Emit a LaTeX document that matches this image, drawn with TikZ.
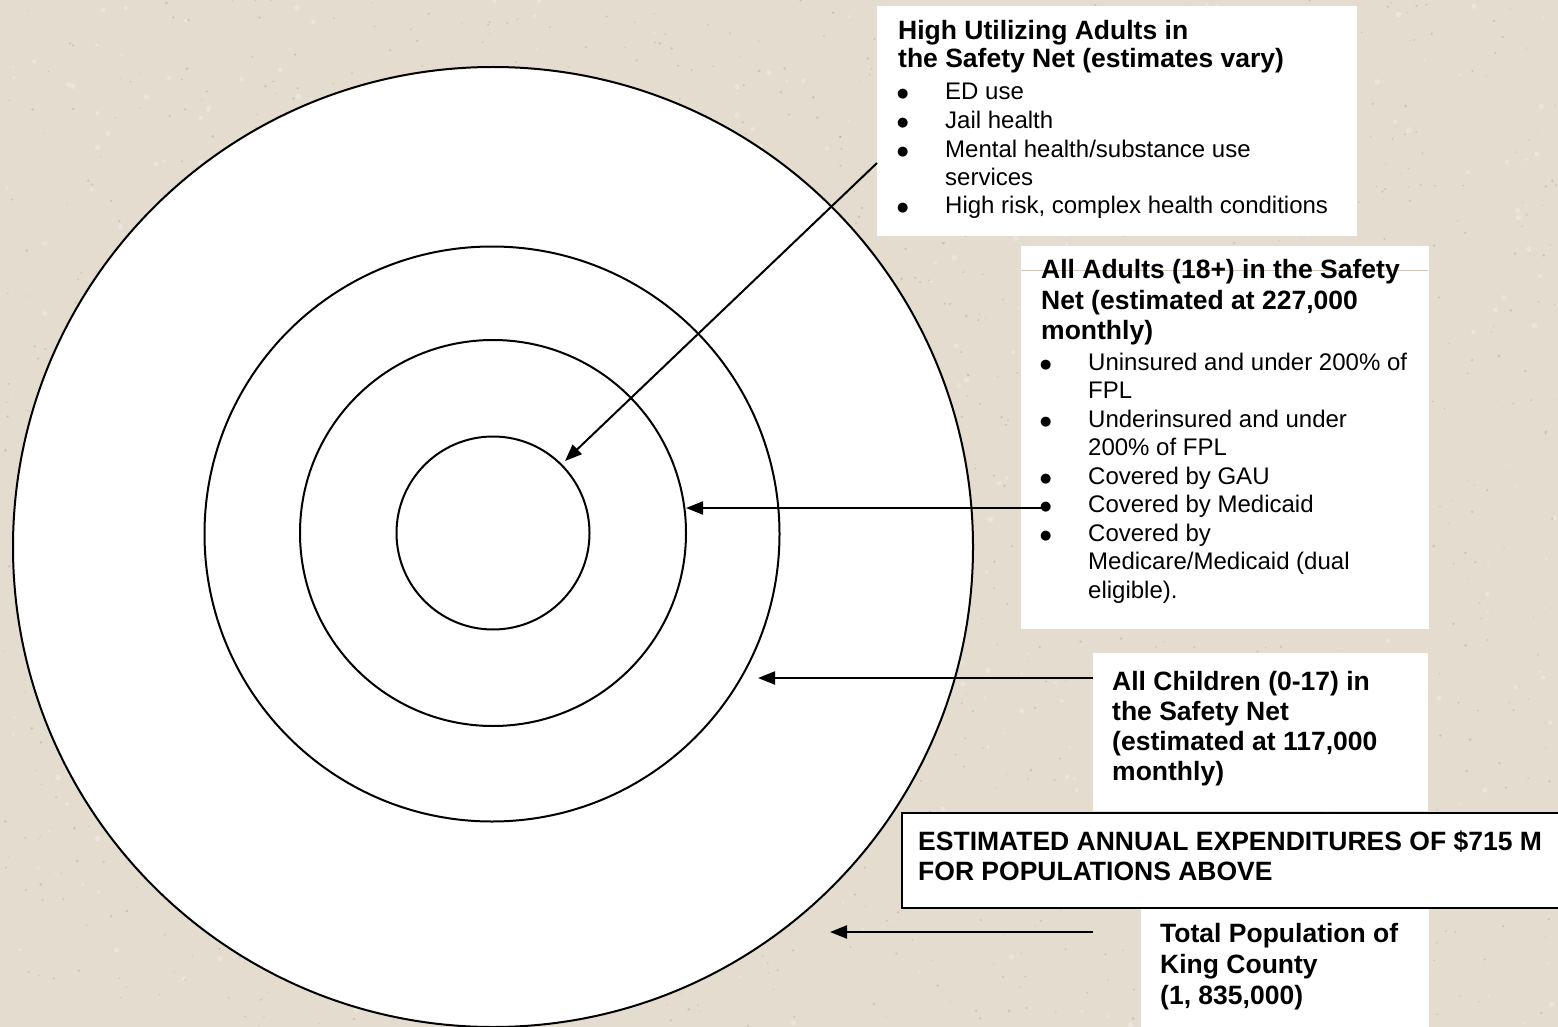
\documentclass[tikz,border=0pt]{standalone}
\usepackage{fontspec}
\setmainfont{Liberation Sans}
\newfontfamily\dotfont{DejaVu Sans}
\usetikzlibrary{arrows.meta}

\definecolor{paper}{RGB}{227,220,207}
\definecolor{grain}{RGB}{176,164,148}
\definecolor{seam}{RGB}{212,196,182}

\tikzset{
  ring/.style={circle, draw=black, line width=2pt, fill=white, inner sep=0pt},
  panel/.style={rectangle, fill=white, draw=none, inner sep=0pt, anchor=north west},
  framed/.style={rectangle, fill=white, draw=black, line width=1.8pt, inner sep=0pt, anchor=north west},
  pointer/.style={draw=black, line width=2pt, -{Triangle[length=17pt,width=13pt]}},
  head/.style={anchor=base west, inner sep=0pt, font=\fontsize{26.5}{30}\selectfont\bfseries},
  item/.style={anchor=base west, inner sep=0pt, font=\fontsize{24}{28.7}\selectfont},
  dot/.style={anchor=base west, inner sep=0pt, font=\dotfont\fontsize{13}{13}\selectfont},
}

% one bulleted line: name, bullet x, text x, baseline y, text
\newcommand\itemline[5]{%
  \node[dot] (#1b) at (#2-1,#4-2) {●};
  \node[item] (#1t) at (#3,#4) {#5};}
% a continuation line of a bullet item
\newcommand\contline[4]{%
  \node[item] (#1t) at (#2,#3) {#4};}

\begin{document}
\begin{tikzpicture}[x=1pt,y=-1pt]
  \useasboundingbox (0,0) rectangle (1558,1027);
  \clip (0,0) rectangle (1558,1027);
  \fill[paper] (0,0) rectangle (1558,1027);

  % granite grain of the backdrop
  \pgfmathsetseed{4242}
  \foreach \i in {1,...,1400}{
    \pgfmathsetmacro\gx{rnd*1558}
    \pgfmathsetmacro\gy{rnd*1027}
    \pgfmathsetmacro\gr{0.5+rnd*0.9}
    \fill[grain, opacity=0.45] (\gx,\gy) circle[radius=\gr];
  }
  \foreach \i in {1,...,500}{
    \pgfmathsetmacro\gx{rnd*1558}
    \pgfmathsetmacro\gy{rnd*1027}
    \pgfmathsetmacro\gr{1+rnd*2}
    \fill[white, opacity=0.25] (\gx,\gy) circle[radius=\gr];
  }

  % concentric population rings
  \node[ring, minimum size=960pt] (county)   at (493,547) {};
  \node[ring, minimum size=575pt] (children) at (492,534) {};
  \node[ring, minimum size=386pt] (adults)   at (493,533) {};
  \node[ring, minimum size=193pt] (core)     at (493,533) {};

  % text panels
  \node[panel, minimum width=480pt, minimum height=230pt] (hubox)  at (877,6) {};
  \node[panel, minimum width=408pt, minimum height=383pt] (adbox)  at (1021,246) {};
  \node[panel, minimum width=335pt, minimum height=158pt] (chbox)  at (1093,653) {};
  \node[panel, minimum width=288pt, minimum height=125pt] (popbox) at (1141,907) {};
  \node[framed, minimum width=700pt, minimum height=95pt] (expbox) at (901,812) {};

  \draw[seam, line width=1pt] (1021,270) -- (1428,270);

  % high utilizing adults
  \node[head] (hu1) at (898,40) {High Utilizing Adults in};
  \node[head] (hu2) at (898,68) {the Safety Net (estimates vary)};
  \itemline{hua}{898}{945}{100}{ED use}
  \itemline{hub}{898}{945}{129}{Jail health}
  \itemline{huc}{898}{945}{158}{Mental health/substance use}
  \contline{hud}{945}{186}{services}
  \itemline{hue}{898}{945}{214}{High risk, complex health conditions}

  % all adults
  \node[head] (ad1) at (1041,278) {All Adults (18+) in the Safety};
  \node[head] (ad2) at (1041,309) {Net (estimated at 227,000};
  \node[head] (ad3) at (1041,339) {monthly)};
  \itemline{ada}{1041}{1088}{370}{Uninsured and under 200\% of}
  \contline{adb}{1088}{398.5}{FPL}
  \itemline{adc}{1041}{1088}{427}{Underinsured and under}
  \contline{add}{1088}{455.5}{200\% of FPL}
  \itemline{ade}{1041}{1088}{484}{Covered by GAU}
  \itemline{adf}{1041}{1088}{512.5}{Covered by Medicaid}
  \itemline{adg}{1041}{1088}{541}{Covered by}
  \contline{adh}{1088}{569.5}{Medicare/Medicaid (dual}
  \contline{adi}{1088}{598}{eligible).}

  % all children
  \node[head] (ch1) at (1112,690) {All Children (0-17) in};
  \node[head] (ch2) at (1112,720) {the Safety Net};
  \node[head] (ch3) at (1112,750) {(estimated at 117,000};
  \node[head] (ch4) at (1112,780) {monthly)};

  % expenditures
  \node[head] (ex1) at (918,850) {ESTIMATED ANNUAL EXPENDITURES OF \$715 M};
  \node[head] (ex2) at (918,880) {FOR POPULATIONS ABOVE};

  % total population
  \node[head] (tp1) at (1160,942) {Total Population of};
  \node[head] (tp2) at (1160,973) {King County};
  \node[head] (tp3) at (1160,1004) {(1, 835,000)};

  % connector end points
  \coordinate (huFrom) at (877,163);
  \coordinate (huTo)   at (565,461);
  \coordinate (adFrom) at (1044,508);
  \coordinate (adTo)   at (686,508);
  \coordinate (chFrom) at (1093,678);
  \coordinate (chTo)   at (758,678);
  \coordinate (tpFrom) at (1093,932);
  \coordinate (tpTo)   at (830,932);

  \draw[pointer] (huFrom) -- (huTo);
  \draw[pointer] (adFrom) -- (adTo);
  \draw[pointer] (chFrom) -- (chTo);
  \draw[pointer] (tpFrom) -- (tpTo);
\end{tikzpicture}
\end{document}
